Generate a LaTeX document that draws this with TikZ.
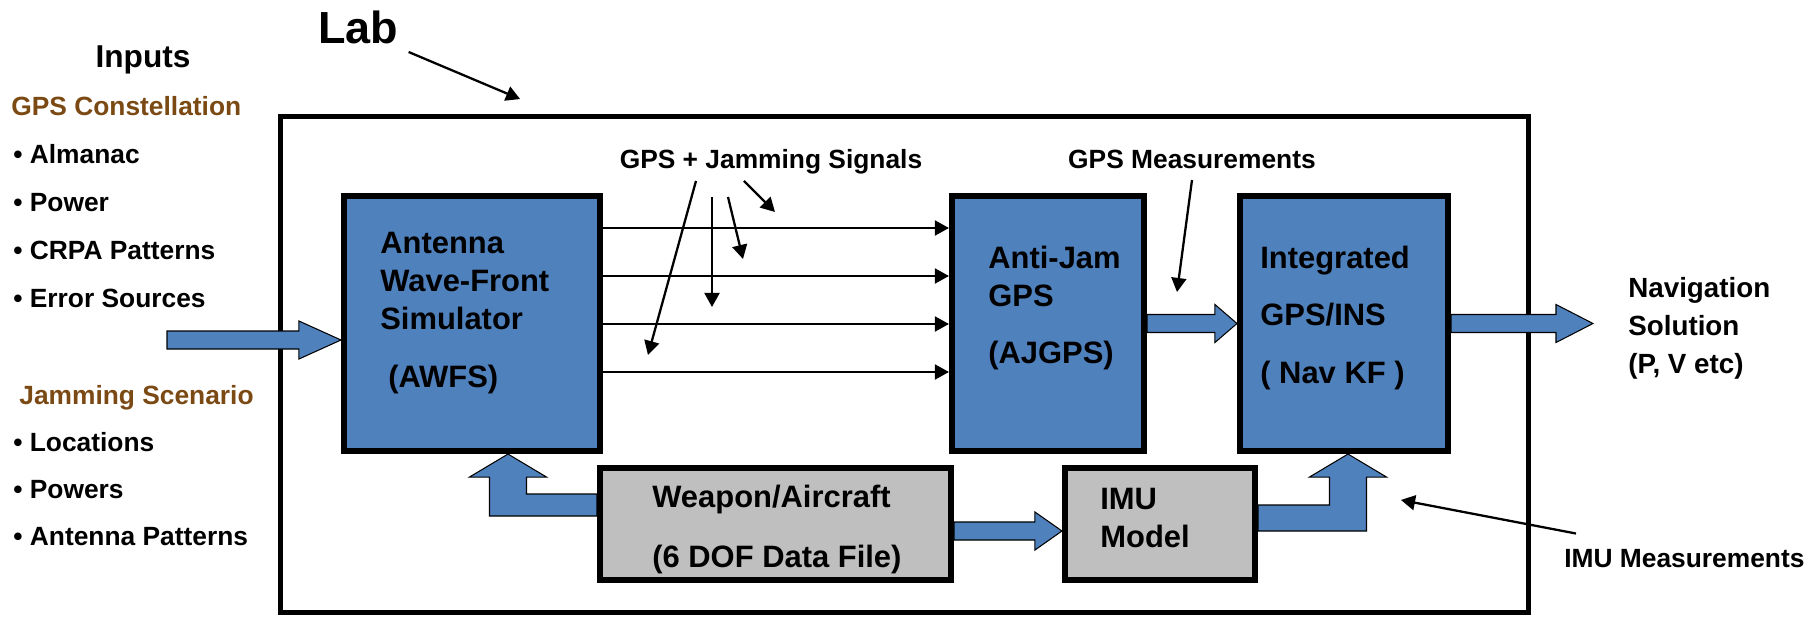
\documentclass[tikz,border=0pt]{standalone}
\usepackage{fontspec}
\setmainfont{Liberation Sans}
\usetikzlibrary{arrows.meta,calc}

\definecolor{simblue}{HTML}{4F81BD}
\definecolor{simgray}{HTML}{BFBFBF}
\definecolor{inbrown}{HTML}{7B4A14}

\tikzset{
  blk/.style={draw=black, line width=3.2pt, fill=simblue, inner sep=0pt},
  grayblk/.style={blk, fill=simgray},
  txt/.style={inner sep=0pt, font=\bfseries\fontsize{17.6}{21.6}\selectfont, align=left, anchor=base west},
  lbl/.style={inner sep=0pt, font=\bfseries\fontsize{15}{18}\selectfont},
  ptr/.style={draw=black, line width=1.3pt, -{Triangle[length=8pt,width=8.5pt]}},
  fat/.style={draw=black, line width=0.6pt, fill=simblue},
}

% straight block arrow: tail, tip, head length
\newcommand{\fatarrow}[3]{%
  \draw[fat] ($(#1)+(0,-9)$) -- ($(#2)+(-#3,-9)$) -- ($(#2)+(-#3,-19)$) -- (#2)
    -- ($(#2)+(-#3,19)$) -- ($(#2)+(-#3,9)$) -- ($(#1)+(0,9)$) -- cycle;}
% bent block arrow: tail, tip, direction, half shaft height
\newcommand{\fatturn}[4]{%
  \draw[fat] ($(#1)+(0,-#4)$) -- ($(#2 |- #1)+({0-(#3)*18.5},-#4)$) -- ($(#2)+({0-(#3)*18.5},23)$)
    -- ($(#2)+({0-(#3)*38.5},23)$) -- (#2) -- ($(#2)+({(#3)*38.5},23)$) -- ($(#2)+({(#3)*18.5},23)$)
    -- ($(#2 |- #1)+({(#3)*18.5},#4)$) -- ($(#1)+(0,#4)$) -- cycle;}

\begin{document}
\begin{tikzpicture}[x=0.02cm, y=-0.02cm]
  \useasboundingbox (0,0) rectangle (1820,616);

  % lab frame
  \node[draw=black, line width=2.85pt, inner sep=0pt, minimum width=24.96cm, minimum height=9.92cm] (lab) at (904.5,364.5) {};
  \node[lbl, font=\bfseries\fontsize{25.6}{30}\selectfont, anchor=base west] (lab_lbl) at (318,43) {Lab};
  \draw[ptr] ($(lab_lbl.base east)+(10,9)$) -- ($(lab.north west)+(242,-15)$);

  % inputs
  \node[lbl, font=\bfseries\fontsize{18}{22}\selectfont, anchor=base] (inputs) at (143,67) {Inputs};
  \node[lbl, text=inbrown, anchor=base west] (gps_con) at (11,115) {GPS Constellation};
  \foreach \t [count=\i] in {Almanac, Power, CRPA Patterns, Error Sources}
    \node[lbl, anchor=base west] (con_\i) at (13,115+48*\i) {• \t};
  \node[lbl, text=inbrown, anchor=base west] (jam_scn) at (19,404) {Jamming Scenario};
  \foreach \t [count=\i] in {Locations, Powers, Antenna Patterns}
    \node[lbl, anchor=base west] (jam_\i) at (13,404+47*\i) {• \t};

  % blocks
  \node[blk, minimum width=5.13cm, minimum height=5.11cm] (awfs) at (472,323.5) {};
  \node[blk, minimum width=3.85cm, minimum height=5.11cm] (ajgps) at (1048,323.5) {};
  \node[blk, minimum width=4.17cm, minimum height=5.11cm] (intg) at (1344,323.5) {};
  \node[grayblk, minimum width=7.03cm, minimum height=2.25cm] (weapon) at (775.5,524) {};
  \node[grayblk, minimum width=3.81cm, minimum height=2.25cm] (imu) at (1160,524) {};

  % text is placed by the baseline of its last line
  \node[txt] (awfs_txt) at (380,387) {Antenna\\Wave-Front\\Simulator\\[11.4pt]\hspace{4.5pt}(AWFS)};
  \node[txt] (ajgps_txt) at (988,363) {Anti-Jam\\GPS\\[10.8pt](AJGPS)};
  \node[txt] (intg_txt) at (1260,383) {Integrated\\[10.8pt]GPS/INS\\[11.2pt]( Nav KF )};
  \node[txt] (weapon_txt) at (652,567) {Weapon/Aircraft\\[12pt](6 DOF Data File)};
  \node[txt] (imu_txt) at (1100,547) {IMU\\Model};
  \node[txt, font=\bfseries\fontsize{15.8}{21.5}\selectfont] (nav_lbl) at (1628,373) {Navigation\\Solution\\(P, V etc)};

  % block arrows
  \coordinate (in_tail) at (167,340);
  \coordinate (nav_tip) at (1593,323.5);
  \coordinate (wp_out) at (weapon.east |- 0,531);
  \coordinate (wp_up) at (weapon.west |- 0,505);
  \coordinate (imu_out) at (imu.east |- 0,518);
  \coordinate (awfs_in) at (508,0 |- awfs.south);
  \coordinate (intg_in) at (1348,0 |- intg.south);
  \fatarrow{in_tail}{in_tail -| awfs.west}{42}
  \fatarrow{ajgps.east}{intg.west}{22}
  \fatarrow{intg.east}{nav_tip}{37}
  \fatarrow{wp_out}{wp_out -| imu.west}{27}
  \fatturn{wp_up}{awfs_in}{-1}{11}
  \fatturn{imu_out}{intg_in}{1}{13}

  % signal lines
  \foreach \y in {228,276,324,372}
    \draw[ptr, line width=1.2pt] (awfs.east |- 0,\y) -- (ajgps.west |- 0,\y);

  % callouts
  \node[lbl, anchor=base] (sig_lbl) at (771,168) {GPS + Jamming Signals};
  \node[lbl, anchor=base] (meas_lbl) at (1192,168) {GPS Measurements};
  \node[lbl, anchor=base west] (imu_lbl) at (1564,567) {IMU Measurements};
  \foreach \sx/\sy/\tx/\ty in {-75/7/648/355, -59/23/712/307, -43/23/743/259, -27/7/775/212}
    \draw[ptr] ($(sig_lbl.south)+(\sx,\sy)$) -- (\tx,\ty);
  \draw[ptr] ($(meas_lbl.base)+(0,12)$) -- (1177,292);
  \draw[ptr] ($(imu_lbl.north west)+(12,-15)$) -- (1401,500);
\end{tikzpicture}
\end{document}
